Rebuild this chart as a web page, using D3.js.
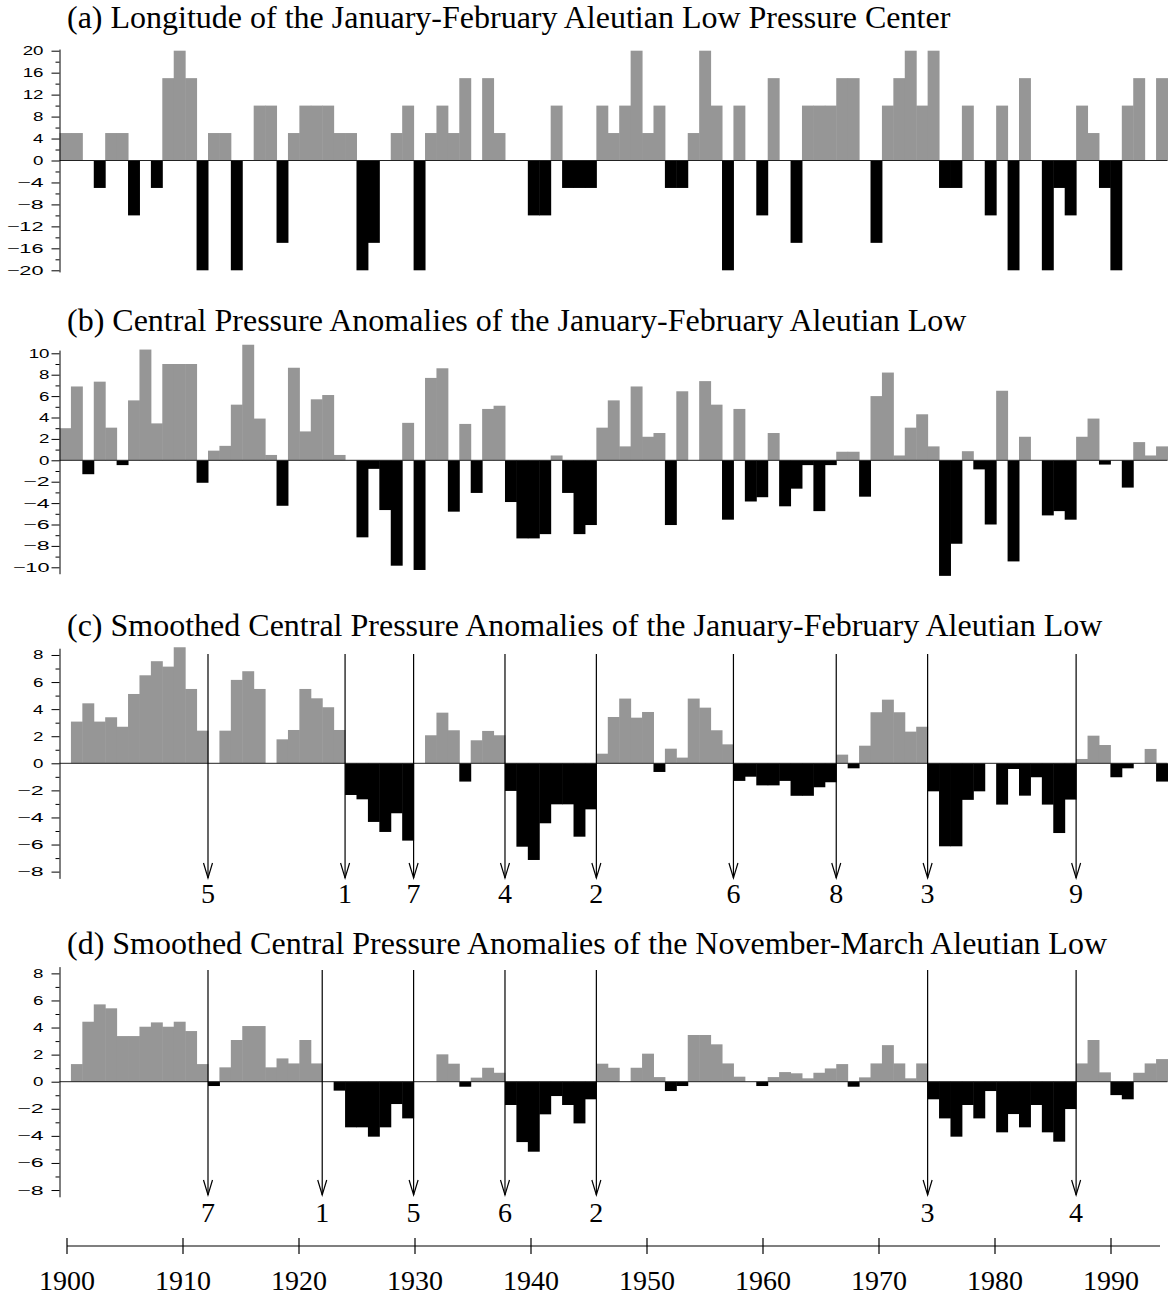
<!DOCTYPE html>
<html>
<head>
<meta charset="utf-8">
<script src="https://cdn.jsdelivr.net/npm/d3@7"></script>
<style>
  body { margin: 0; background: #fff; }
  svg { display: block; }
</style>
</head>
<body>
<svg id="chart" width="1172" height="1296"></svg>
<script>
// --- data ---
const firstYear = 1900;
const lastYear = 1996;

// (a) longitude anomaly of the Jan-Feb Aleutian Low centre (deg)
const longitudeJF = [
  5, 5, 0, -5, 5, 5, -10, 0, -5, 15,
  20, 15, -20, 5, 5, -20, 0, 10, 10, -15,
  5, 10, 10, 10, 5, 5, -20, -15, 0, 5,
  10, -20, 5, 10, 5, 15, 0, 15, 5, 0,
  0, -10, -10, 10, -5, -5, -5, 10, 5, 10,
  20, 5, 10, -5, -5, 5, 20, 10, -20, 10,
  0, -10, 15, 0, -15, 10, 10, 10, 15, 15,
  0, -15, 10, 15, 20, 10, 20, -5, -5, 10,
  0, -10, 10, -20, 15, 0, -20, -5, -10, 10,
  5, -5, -20, 10, 15, 0, 15
];

// (b) central pressure anomaly, Jan-Feb (hPa)
const pressureJF = [
  3.0, 6.9, -1.3, 7.35, 3.05, -0.45, 5.6, 10.35, 3.45, 9.0,
  9.0, 9.0, -2.1, 0.9, 1.35, 5.2, 10.8, 3.9, 0.5, -4.25,
  8.65, 2.7, 5.7, 6.1, 0.5, 0, -7.2, -0.8, -4.65, -9.85,
  3.5, -10.25, 7.7, 8.6, -4.8, 3.4, -3.05, 4.8, 5.1, -3.9,
  -7.3, -7.3, -6.9, 0.45, -3.05, -6.9, -6.05, 3.05, 5.6, 1.3,
  6.9, 2.2, 2.55, -6.05, 6.45, 0, 7.4, 5.2, -5.55, 4.8,
  -3.85, -3.45, 2.55, -4.3, -2.65, -0.45, -4.75, -0.45, 0.8, 0.8,
  -3.4, 6.0, 8.2, 0.45, 3.05, 4.3, 1.3, -10.8, -7.8, 0.85,
  -0.85, -6.0, 6.5, -9.45, 2.2, 0, -5.15, -4.75, -5.55, 2.2,
  3.9, -0.4, 0, -2.55, 1.7, 0.45, 1.3
];

// (c) smoothed central pressure anomaly, Jan-Feb
const smoothedJF = [
  0, 3.08, 4.43, 3.08, 3.4, 2.7, 5.12, 6.5, 7.54, 7.14,
  8.57, 5.49, 2.41, 0, 2.41, 6.16, 6.8, 5.49, 0, 1.77,
  2.46, 5.49, 4.8, 4.14, 2.46, -2.34, -2.66, -4.33, -5.07, -3.69,
  -5.71, 0, 2.07, 3.74, 2.44, -1.35, 1.7, 2.39, 2.07, -2.04,
  -6.16, -7.14, -4.43, -3.03, -3.03, -5.42, -3.4, 0.71, 3.42, 4.78,
  3.37, 3.79, -0.64, 1.08, 0.42, 4.78, 4.11, 2.44, 1.4, -1.3,
  -0.99, -1.63, -1.63, -1.3, -2.4, -2.4, -1.77, -1.4, 0.64, -0.37,
  1.3, 3.77, 4.7, 3.77, 2.34, 2.7, -2.07, -6.13, -6.13, -2.7,
  -2.07, 0, -3.05, -0.42, -2.39, -1.03, -3.05, -5.15, -2.68, 0.32,
  2.04, 1.35, -1.03, -0.37, 0, 1.06, -1.35
];

// (d) smoothed central pressure anomaly, Nov-Mar
const smoothedNM = [
  0, 1.3, 4.43, 5.71, 5.42, 3.37, 3.37, 4.06, 4.38, 4.06,
  4.43, 3.74, 1.3, -0.32, 1.06, 3.08, 4.11, 4.11, 1.06, 1.72,
  1.35, 3.08, 1.35, 0, -0.66, -3.37, -3.37, -4.06, -3.37, -1.65,
  -2.71, 0, 0, 2.02, 1.33, -0.37, 0.3, 1.03, 0.66, -1.72,
  -4.46, -5.17, -2.41, -1.06, -1.72, -3.08, -1.3, 1.33, 1.03, 0,
  1.03, 2.07, 0.34, -0.69, -0.32, 3.45, 3.45, 2.76, 1.35, 0.37,
  0, -0.32, 0.34, 0.71, 0.62, 0.25, 0.66, 0.98, 1.3, -0.37,
  0.32, 1.35, 2.7, 1.35, 0.25, 1.35, -1.3, -2.71, -4.06, -1.72,
  -2.71, -0.69, -3.74, -2.39, -3.37, -1.72, -3.74, -4.43, -2.02, 1.35,
  3.08, 0.69, -0.99, -1.3, 0.66, 1.35, 1.67
];

// regime shifts: first year of the new regime, and its rank
const shiftYearsJF = [1913, 1925, 1931, 1939, 1947, 1959, 1968, 1976, 1989];
const shiftRanksJF = ["5", "1", "7", "4", "2", "6", "8", "3", "9"];
const shiftYearsNM = [1913, 1923, 1931, 1939, 1947, 1976, 1989];
const shiftRanksNM = ["7", "1", "5", "6", "2", "3", "4"];

const decadeTicks = [1900, 1910, 1920, 1930, 1940, 1950, 1960, 1970, 1980, 1990];

// --- layout ---
const svg = d3.select("#chart");
const years = d3.range(firstYear, lastYear + 1);
const x = d3.scaleBand().domain(years).range([59.5, 1167.5]).padding(0);
const axisX = 59.5;
const grey = "#969696";
const serif = "'Liberation Serif', 'Times New Roman', serif";
const sans = "'Liberation Sans', Arial, sans-serif";

const panels = [
  { title: "(a) Longitude of the January-February Aleutian Low Pressure Center",
    titleY: 28, values: longitudeJF, zero: 160.5, unit: 5.49, lo: -20.3, hi: 20.3,
    major: d3.range(-20, 21, 4), minor: d3.range(-18, 19, 4), pad: 8 },
  { title: "(b) Central Pressure Anomalies of the January-February Aleutian Low",
    titleY: 331, values: pressureJF, zero: 460.3, unit: 10.7, lo: -10.6, hi: 10.3,
    major: d3.range(-10, 11, 2), minor: d3.range(-9, 10, 2), pad: 2 },
  { title: "(c) Smoothed Central Pressure Anomalies of the January-February Aleutian Low",
    titleY: 636, values: smoothedJF, zero: 763.3, unit: 13.54, lo: -8.5, hi: 8.5,
    major: d3.range(-8, 9, 2), minor: d3.range(-7, 8, 2), pad: 8,
    shifts: shiftYearsJF, ranks: shiftRanksJF, arrowTop: 654, arrowTip: 878, rankY: 903 },
  { title: "(d) Smoothed Central Pressure Anomalies of the November-March Aleutian Low",
    titleY: 954, values: smoothedNM, zero: 1081.7, unit: 13.54, lo: -8.5, hi: 8.5,
    major: d3.range(-8, 9, 2), minor: d3.range(-7, 8, 2), pad: 8,
    shifts: shiftYearsNM, ranks: shiftRanksNM, arrowTop: 970, arrowTip: 1195, rankY: 1222 }
];

const fmt = v => (v < 0 ? "\u2212" + Math.abs(v) : String(v));
// the tick labels in the figure are set in a wide, low sans face
const labelWidth = v => String(Math.abs(v)).length * 10.4 + (v < 0 ? 16 : 0);

panels.forEach(p => {
  const g = svg.append("g");
  const y = d3.scaleLinear()
    .domain([p.lo, p.hi])
    .range([p.zero - p.lo * p.unit, p.zero - p.hi * p.unit]);

  g.append("text")
    .attr("x", 67).attr("y", p.titleY)
    .attr("font-family", serif).attr("font-size", 32)
    .text(p.title);

  const data = years.map((yr, i) => ({ year: yr, value: p.values[i] }));

  g.selectAll("rect.bar")
    .data(data.filter(d => d.value !== 0))
    .join("rect")
    .attr("class", "bar")
    .attr("x", d => x(d.year))
    .attr("width", x.bandwidth() + 0.5)
    .attr("y", d => Math.min(y(d.value), y(0)))
    .attr("height", d => Math.abs(y(d.value) - y(0)))
    .attr("fill", d => d.value > 0 ? grey : "#000");

  // zero line
  g.append("line")
    .attr("x1", axisX).attr("x2", x.range()[1])
    .attr("y1", y(0)).attr("y2", y(0))
    .attr("stroke", "#222").attr("stroke-width", 1);

  // y axis, major with labels, minor without
  g.append("g")
    .attr("transform", `translate(${axisX},0)`)
    .call(d3.axisLeft(y).tickValues(p.major).tickFormat(fmt)
      .tickSize(8).tickSizeOuter(0).tickPadding(p.pad))
    .call(a => a.selectAll("text")
      .attr("font-family", sans).attr("font-size", 12.5).attr("fill", "#000")
      .attr("textLength", d => labelWidth(d)).attr("lengthAdjust", "spacingAndGlyphs"))
    .call(a => a.selectAll("line, path").attr("stroke", "#000"));
  g.append("g")
    .attr("transform", `translate(${axisX},0)`)
    .call(d3.axisLeft(y).tickValues(p.minor).tickFormat("").tickSize(4).tickSizeOuter(0))
    .call(a => a.select(".domain").remove())
    .call(a => a.selectAll("line").attr("stroke", "#000"));

  // regime shift arrows
  if (p.shifts) {
    const s = p.shifts.map((yr, i) => ({ year: yr, rank: p.ranks[i] }));
    const ag = g.selectAll("g.shift").data(s).join("g").attr("class", "shift")
      .attr("transform", d => `translate(${x(d.year)},0)`);
    ag.append("line")
      .attr("y1", p.arrowTop).attr("y2", p.arrowTip)
      .attr("stroke", "#000").attr("stroke-width", 1.2);
    ag.append("path")
      .attr("d", `M-4.5,${p.arrowTip - 15}L0,${p.arrowTip}L4.5,${p.arrowTip - 15}`)
      .attr("fill", "none").attr("stroke", "#000").attr("stroke-width", 1.2);
    ag.append("text")
      .attr("y", p.rankY).attr("text-anchor", "middle")
      .attr("font-family", serif).attr("font-size", 28)
      .text(d => d.rank);
  }
});

// bottom time axis
const t = d3.scaleLinear().domain([1900, 1990]).range([67, 1111]);
const tg = svg.append("g").attr("transform", "translate(0,1246)");
tg.append("line").attr("x1", 67).attr("x2", 1160).attr("stroke", "#000").attr("stroke-width", 1.2);
tg.selectAll("line.tick").data(decadeTicks).join("line").attr("class", "tick")
  .attr("x1", d => t(d)).attr("x2", d => t(d)).attr("y1", -8).attr("y2", 8)
  .attr("stroke", "#000").attr("stroke-width", 1.2);
tg.selectAll("text").data(decadeTicks).join("text")
  .attr("x", d => t(d)).attr("y", 44).attr("text-anchor", "middle")
  .attr("font-family", serif).attr("font-size", 28)
  .text(d => d);
</script>
</body>
</html>
